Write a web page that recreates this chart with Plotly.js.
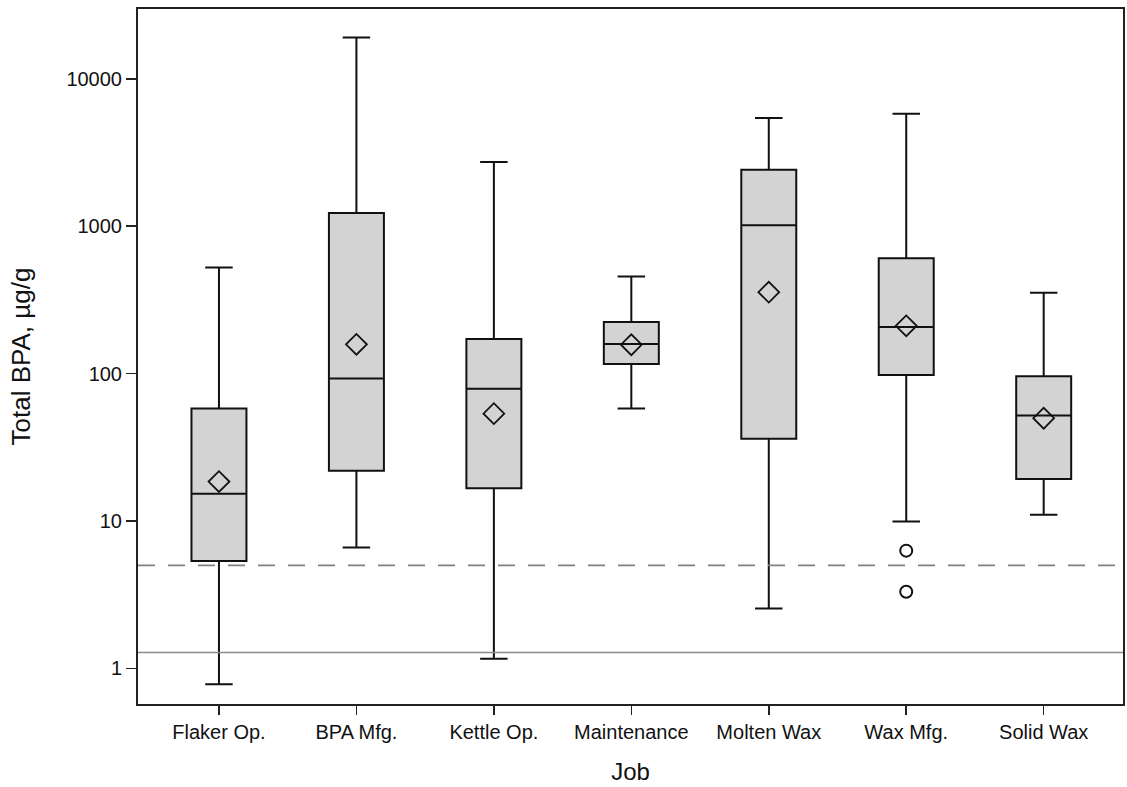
<!DOCTYPE html>
<html>
<head>
<meta charset="utf-8">
<script src="https://cdn.plot.ly/plotly-3.0.1.min.js"></script>
<style>html,body{margin:0;padding:0;background:#fff;}</style>
</head>
<body>
<div id="chart" style="width:1127px;height:787px;"></div>
<script>
// Job categories
const jobs = ["Flaker Op.", "BPA Mfg.", "Kettle Op.", "Maintenance", "Molten Wax", "Wax Mfg.", "Solid Wax"];
// Box statistics (Total BPA, µg/g)
const lowerWhisker = [0.78, 6.6, 1.16, 58, 2.55, 9.9, 11.0];
const q1 = [5.35, 21.9, 16.7, 116, 36.2, 98, 19.3];
const median = [15.3, 92.5, 78.8, 159, 1017, 207, 51.9];
const q3 = [57.9, 1228, 172, 224, 2415, 607, 96];
const upperWhisker = [524, 19100, 2723, 456, 5420, 5795, 353];
const means = [18.5, 158, 53.5, 157, 357, 211, 49.8];
// Outliers
const outlierJobs = ["Wax Mfg.", "Wax Mfg."];
const outlierValues = [6.29, 3.31];
// Reference lines
const dashedRef = 5;
const solidRef = 1.28;
// Y tick labels
const yTickVals = [1, 10, 100, 1000, 10000];
const yTickText = ["1", "10", "100", "1000", "10000"];

const FONT = "Arial, 'Liberation Sans', sans-serif";

const traces = [
  {
    type: "scatter", mode: "lines", xaxis: "x2", yaxis: "y",
    x: [0, 1], y: [dashedRef, dashedRef],
    line: {color: "#808080", width: 1.6, dash: "17px,13px"},
    hoverinfo: "skip", showlegend: false
  },
  {
    type: "scatter", mode: "lines", xaxis: "x2", yaxis: "y",
    x: [0, 1], y: [solidRef, solidRef],
    line: {color: "#8c8c8c", width: 1.6},
    hoverinfo: "skip", showlegend: false
  },
  {
    type: "box",
    x: jobs,
    q1: q1, median: median, q3: q3,
    lowerfence: lowerWhisker, upperfence: upperWhisker,
    width: 0.4,
    whiskerwidth: 0.5,
    fillcolor: "#d3d3d3",
    line: {color: "#111111", width: 2},
    boxpoints: false,
    showlegend: false
  },
  {
    type: "scatter", mode: "markers",
    x: jobs, y: means,
    marker: {symbol: "diamond-open", size: 16, color: "#111111", line: {width: 1.8, color: "#111111"}},
    showlegend: false
  },
  {
    type: "scatter", mode: "markers",
    x: outlierJobs, y: outlierValues,
    marker: {symbol: "circle-open", size: 12, color: "#111111", line: {width: 2, color: "#111111"}},
    showlegend: false
  }
];

const layout = {
  width: 1127, height: 787,
  margin: {l: 138, r: 4, t: 9, b: 83},
  paper_bgcolor: "#ffffff", plot_bgcolor: "#ffffff",
  font: {family: FONT, color: "#111111", size: 20},
  showlegend: false,
  xaxis: {
    type: "category",
    categoryorder: "array", categoryarray: jobs,
    range: [-0.589, 6.577],
    showgrid: false, zeroline: false,
    showline: true, linecolor: "#222222", linewidth: 2, mirror: true,
    ticks: "outside", ticklen: 9, tickwidth: 1.5, tickcolor: "#222222",
    tickfont: {family: FONT, size: 20, color: "#111111"},
    title: {text: "Job", font: {family: FONT, size: 24, color: "#111111"}, standoff: 21}
  },
  xaxis2: {
    overlaying: "x", range: [0, 1], visible: false, fixedrange: true
  },
  yaxis: {
    type: "log",
    range: [-0.242, 4.474],
    tickvals: yTickVals, ticktext: yTickText,
    showgrid: false, zeroline: false,
    showline: true, linecolor: "#222222", linewidth: 2, mirror: true,
    ticks: "outside", ticklen: 10, tickwidth: 1.5, tickcolor: "#222222",
    tickfont: {family: FONT, size: 20, color: "#111111"},
    title: {text: "Total BPA, µg/g", font: {family: FONT, size: 26, color: "#111111"}, standoff: 28}
  }
};

Plotly.newPlot("chart", traces, layout, {staticPlot: true, displayModeBar: false});
</script>
</body>
</html>
